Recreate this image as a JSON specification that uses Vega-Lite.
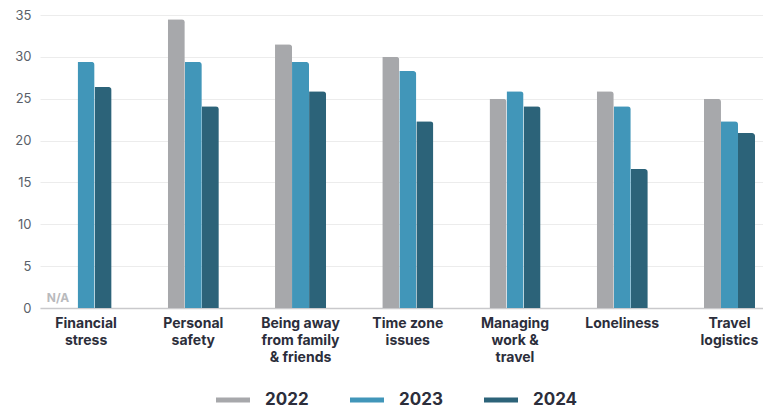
{
  "$schema": "https://vega.github.io/schema/vega-lite/v6.json",
  "width": 723,
  "height": 293,
  "autosize": {"type": "none"},
  "padding": {"left": 40, "top": 15, "right": 0, "bottom": 101},
  "background": "white",
  "config": {
    "view": {"stroke": null},
    "font": "Inter"
  },
  "data": {
    "values": [
      {"category": "Financial stress", "year": "2022", "value": null, "note": "N/A"},
      {"category": "Financial stress", "year": "2023", "value": 29.4, "note": ""},
      {"category": "Financial stress", "year": "2024", "value": 26.4, "note": ""},
      {"category": "Personal safety", "year": "2022", "value": 34.5, "note": ""},
      {"category": "Personal safety", "year": "2023", "value": 29.4, "note": ""},
      {"category": "Personal safety", "year": "2024", "value": 24.1, "note": ""},
      {"category": "Being away from family & friends", "year": "2022", "value": 31.5, "note": ""},
      {"category": "Being away from family & friends", "year": "2023", "value": 29.4, "note": ""},
      {"category": "Being away from family & friends", "year": "2024", "value": 25.9, "note": ""},
      {"category": "Time zone issues", "year": "2022", "value": 30.0, "note": ""},
      {"category": "Time zone issues", "year": "2023", "value": 28.3, "note": ""},
      {"category": "Time zone issues", "year": "2024", "value": 22.3, "note": ""},
      {"category": "Managing work & travel", "year": "2022", "value": 25.0, "note": ""},
      {"category": "Managing work & travel", "year": "2023", "value": 25.9, "note": ""},
      {"category": "Managing work & travel", "year": "2024", "value": 24.1, "note": ""},
      {"category": "Loneliness", "year": "2022", "value": 25.9, "note": ""},
      {"category": "Loneliness", "year": "2023", "value": 24.1, "note": ""},
      {"category": "Loneliness", "year": "2024", "value": 16.6, "note": ""},
      {"category": "Travel logistics", "year": "2022", "value": 25.0, "note": ""},
      {"category": "Travel logistics", "year": "2023", "value": 22.3, "note": ""},
      {"category": "Travel logistics", "year": "2024", "value": 20.9, "note": ""}
    ]
  },
  "encoding": {
    "x": {
      "field": "category",
      "type": "nominal",
      "sort": null,
      "scale": {"paddingInner": 0.524, "paddingOuter": 0.133, "align": 0.72},
      "axis": {
        "title": null,
        "labelAngle": 0,
        "labelFontWeight": "bold",
        "labelFontSize": 14,
        "labelColor": "#2c2e3b",
        "labelLineHeight": 17,
        "labelPadding": 8,
        "labelLimit": 200,
        "labelBaseline": "top",
        "ticks": false,
        "domainColor": "#c9c9cc",
        "domainWidth": 1.5,
        "labelExpr": "datum.label == 'Financial stress' ? ['Financial','stress'] : datum.label == 'Personal safety' ? ['Personal','safety'] : datum.label == 'Being away from family & friends' ? ['Being away','from family','& friends'] : datum.label == 'Time zone issues' ? ['Time zone','issues'] : datum.label == 'Managing work & travel' ? ['Managing','work &','travel'] : datum.label == 'Travel logistics' ? ['Travel','logistics'] : datum.label"
      }
    },
    "xOffset": {"field": "year", "type": "nominal", "scale": {"paddingInner": 0, "paddingOuter": 0}}
  },
  "layer": [
    {
      "mark": {"type": "bar", "cornerRadiusTopRight": 3},
      "encoding": {
        "y": {
          "field": "value",
          "type": "quantitative",
          "scale": {"domain": [0, 35], "nice": false},
          "axis": {
            "title": null,
            "values": [0, 5, 10, 15, 20, 25, 30, 35],
            "domain": false,
            "ticks": false,
            "labelFontSize": 13,
            "labelColor": "#5a5f6a",
            "labelPadding": 9,
            "gridColor": "#ececec",
            "gridWidth": 1
          }
        },
        "color": {
          "field": "year",
          "type": "nominal",
          "scale": {"domain": ["2022", "2023", "2024"], "range": ["#a7a8ab", "#4196b9", "#2c6379"]},
          "legend": {
            "title": null,
            "orient": "none",
            "direction": "horizontal",
            "legendX": 176,
            "legendY": 368,
            "symbolType": "M-1,-0.15H1V0.15H-1Z",
            "symbolSize": 1156,
            "symbolStrokeWidth": 0,
            "labelFontSize": 17,
            "labelFontWeight": "bold",
            "labelColor": "#2c2e3b",
            "labelOffset": 15,
            "columnPadding": 41
          }
        }
      }
    },
    {
      "mark": {"type": "text", "fontWeight": "bold", "fontSize": 12, "color": "#b9babd", "baseline": "alphabetic", "dy": -6, "dx": -11},
      "encoding": {
        "y": {"datum": 0, "type": "quantitative"},
        "text": {"field": "note"}
      }
    }
  ]
}
